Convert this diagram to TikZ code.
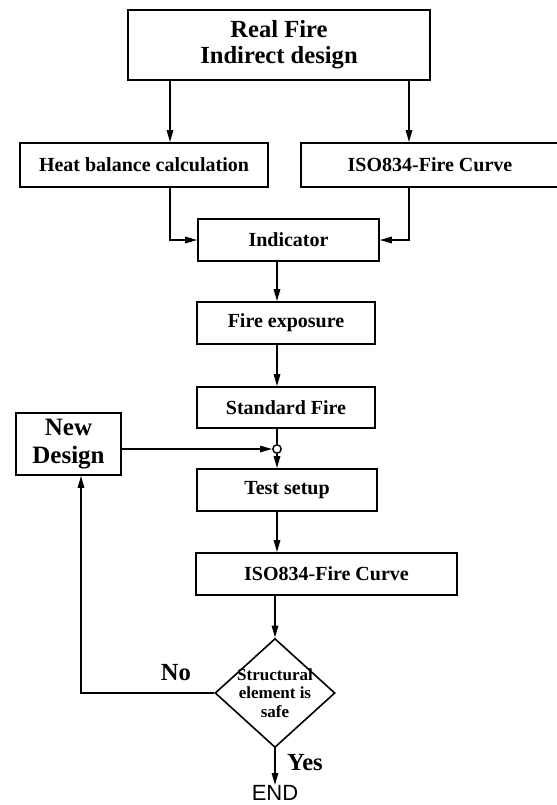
\documentclass[tikz,border=0pt]{standalone}
\usepackage{fontspec}
\setmainfont{Liberation Serif}
\newfontfamily\endfont{Liberation Sans}
\usetikzlibrary{arrows.meta,shapes.geometric}

\tikzset{
	box/.style={draw, line width=0.8pt, inner sep=0pt,
		font=\bfseries\fontsize{10}{12}\selectfont, align=center},
	arr/.style={line width=0.8pt, -{Triangle[length=6pt,width=3.2pt]}},
	lbl/.style={font=\bfseries\fontsize{12.3}{14}\selectfont}
}

\begin{document}
\begin{tikzpicture}[x=0.5pt, y=-0.5pt]
		
		\useasboundingbox (0,0) rectangle (557,805);
		
		% Top box
		\node [box,
		minimum width=151pt,
		minimum height=35pt,
		font=\bfseries\fontsize{12.3}{13}\selectfont] (real) at (279,45){Real Fire\\Indirect design};
		
		% Two branches
		\node [box,
		minimum width=124pt,
		minimum height=22pt] (heat) at (144,165){Heat balance calculation};
		
		\node [box,
		minimum width=129pt,
		minimum height=22pt] (isoA) at (430,165){ISO834-Fire Curve};
		
		\coordinate (lx) at (170,0);
		\coordinate (rx) at (409,0);
		
		% Main column
		\node [box,
		minimum width=90.5pt,
		minimum height=21pt] (ind) at (288.5,240){Indicator};
		
		\node [box,
		minimum width=89pt,
		minimum height=21pt] (fire) at (286,323){Fire exposure};
		
		\node [box,
		minimum width=89pt,
		minimum height=20.5pt] (std) at (286,407.5){Standard Fire};
		
		\node [draw,
		circle,
		line width=0.7pt,
		inner sep=0pt,
		minimum size=4.2pt] (jn) at (277,449){};
		
		\node [box,
		minimum width=90pt,
		minimum height=21pt] (test) at (287,490){Test setup};
		
		\node [box,
		minimum width=130.5pt,
		minimum height=21pt] (isoB) at (326.5,574){ISO834-Fire Curve};
		
		% Decision
		\node [draw,
		diamond,
		line width=0.8pt,
		aspect=1.1,
		inner sep=-2pt,
		minimum width=60pt,
		minimum height=54.5pt,
		align=center,
		font=\bfseries\fontsize{8.5}{9.3}\selectfont] (safe) at (275,693){Structural\\element is\\safe};
		
		\node [box,
		minimum width=52.5pt,
		minimum height=31pt,
		font=\bfseries\fontsize{12.5}{14}\selectfont] (newd) at (68.5,444){New\\Design};
		
		\coordinate (nx) at (81,0);
		
		\node [font=\endfont\fontsize{11}{12}\selectfont, inner sep=0pt] (end) at (275,793){END};
		
		\node [lbl] (no) at (176,673){No};
		\node [lbl] (yes) at (305,763){Yes};
		
		% Connectors
		\draw [arr] (real.south -| lx) -- (heat.north -| lx);
		\draw [arr] (real.south -| rx) -- (isoA.north -| rx);
		\draw [arr] (heat.south -| lx) |- (ind.west);
		\draw [arr] (isoA.south -| rx) |- (ind.east);
		\draw [arr] (ind.south -| jn) -- (fire.north -| jn);
		\draw [arr] (fire.south -| jn) -- (std.north -| jn);
		\draw [line width=0.8pt] (std.south -| jn) -- (jn.north);
		\draw [arr] (jn.south) -- (test.north -| jn);
		\draw [arr] (newd.east |- jn) -- (jn.west);
		\draw [arr] (test.south -| jn) -- (isoB.north -| jn);
		\draw [arr] (isoB.south -| safe) -- (safe.north);
		\draw [arr] (safe.west) -| (newd.south -| nx);
		\draw [arr] (safe.south) -- (end.north);
		
	\end{tikzpicture}
\end{document}
